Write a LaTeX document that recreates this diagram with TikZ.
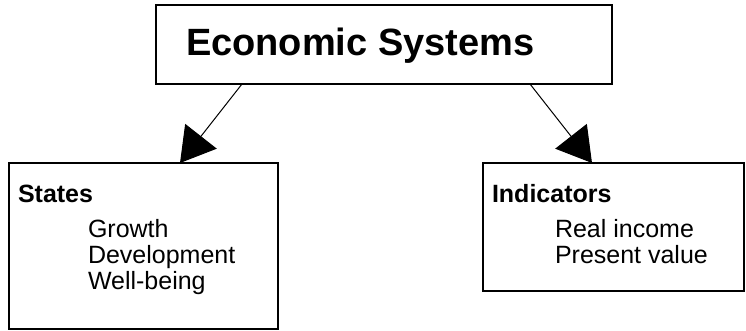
\documentclass[tikz,border=0pt]{standalone}
\usepackage{fontspec}
\setmainfont{Liberation Sans}
\usetikzlibrary{arrows.meta}
\tikzset{
  box/.style={draw, line width=1.6pt, inner sep=0pt, outer sep=0pt, anchor=north west},
  txt/.style={anchor=base west, inner sep=0pt, outer sep=0pt},
  titletxt/.style={txt, font=\bfseries\fontsize{38}{38}\selectfont},
  headtxt/.style={txt, font=\bfseries\fontsize{25}{25}\selectfont},
  itemtxt/.style={txt, font=\fontsize{25}{25}\selectfont},
  link/.style={line width=1pt, -{Triangle[length=34pt,width=40pt]}}
}
\begin{document}
\begin{tikzpicture}[x=1pt,y=-1pt]
\useasboundingbox (0,0) rectangle (746,330);
% boxes
\node[box, minimum width=456pt, minimum height=79pt] (econ) at (156,5) {};
\node[box, minimum width=269pt, minimum height=166pt] (states) at (9,163) {};
\node[box, minimum width=261pt, minimum height=128pt] (ind) at (483,163) {};
% texts
\node[titletxt] (title) at (186,55) {Economic Systems};
\node[headtxt] (stHead) at (18,202) {States};
\node[itemtxt] (stA) at (88,237) {Growth};
\node[itemtxt] (stB) at (88,263) {Development};
\node[itemtxt] (stC) at (88,289) {Well-being};
\node[headtxt] (inHead) at (492,202) {Indicators};
\node[itemtxt] (inA) at (555,237) {Real income};
\node[itemtxt] (inB) at (555,263) {Present value};
% connectors
\draw[link] ([xshift=86pt]econ.south west) -- ([xshift=171pt]states.north west);
\draw[link] ([xshift=374pt]econ.south west) -- ([xshift=109pt]ind.north west);
\end{tikzpicture}
\end{document}
